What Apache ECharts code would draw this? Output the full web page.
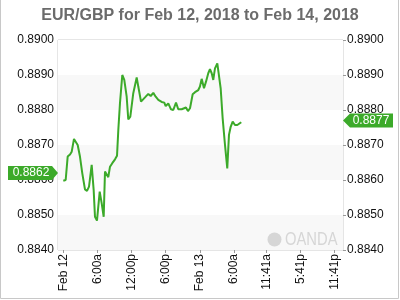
<!DOCTYPE html>
<html>
<head>
<meta charset="utf-8">
<script src="https://cdn.jsdelivr.net/npm/echarts@6/dist/echarts.min.js"></script>
<style>html,body{margin:0;padding:0;background:#fff}#c{width:400px;height:300px}</style>
</head>
<body>
<div id="c"></div>
<script>
// hours since Feb 12, 2018 00:00
const hours = [0.0,0.42,0.77,1.18,1.48,1.88,2.18,2.53,2.93,3.34,3.81,4.17,4.52,4.99,5.34,5.57,5.92,6.40,6.75,7.10,7.33,7.63,7.91,8.21,8.61,9.09,9.44,9.67,9.96,10.37,10.72,11.14,11.42,11.78,12.30,12.90,13.18,13.66,13.88,14.36,14.94,15.36,15.82,16.24,16.70,17.29,17.75,18.00,18.45,18.93,19.33,19.81,20.21,20.81,21.09,21.56,21.91,22.27,22.74,23.15,23.73,24.02,24.32,24.73,25.08,25.48,25.78,26.08,26.36,26.66,27.07,27.42,27.66,28.01,28.42,28.82,29.12,29.42,29.77,30.17,30.58,30.93,31.28];
const rates = [0.88598,0.88600,0.88667,0.88673,0.88681,0.88717,0.88717,0.88700,0.88667,0.88619,0.88573,0.88569,0.88581,0.88643,0.88571,0.88495,0.88484,0.88567,0.88533,0.88495,0.88624,0.88624,0.88608,0.88638,0.88648,0.88659,0.88669,0.88743,0.88819,0.88900,0.88886,0.88838,0.88773,0.88781,0.88848,0.88893,0.88867,0.88824,0.88819,0.88836,0.88846,0.88840,0.88849,0.88838,0.88829,0.88823,0.88821,0.88811,0.88819,0.88802,0.88800,0.88821,0.88802,0.88802,0.88805,0.88807,0.88797,0.88805,0.88845,0.88851,0.88857,0.88867,0.88889,0.88862,0.88881,0.88905,0.88917,0.88905,0.88886,0.88919,0.88933,0.88936,0.88862,0.88776,0.88700,0.88633,0.88729,0.88752,0.88767,0.88757,0.88757,0.88760,0.88765];
const xTickHours = [0,6,12,18,24,30,35.683,41.683,47.683];
const xTickLabels = ['Feb 12','6:00a','12:00p','6:00p','Feb 13','6:00a','11:41a','5:41p','11:41p'];
const xRange = [-0.93, 49.16];
const yRange = [0.884, 0.890];
const yStep = 0.001;
const openLabel = 0.8862;
const lastLabel = 0.8877;

const green = '#3caa2a';
const font = 'Liberation Sans, Arial, sans-serif';
const chart = echarts.init(document.getElementById('c'), null, {renderer:'canvas'});

function xLabel(v){
  let best = 0, d = 1e9;
  xTickHours.forEach((h,i)=>{ if (Math.abs(h-v) < d){ d = Math.abs(h-v); best = i; } });
  return xTickLabels[best];
}

chart.setOption({
  animation: false,
  title: {
    text: 'EUR/GBP for Feb 12, 2018 to Feb 14, 2018',
    left: 'center', top: 3,
    textStyle: {fontFamily: font, fontSize: 16, fontWeight: 'bold', color: '#6b6b6b'}
  },
  grid: {left: 58, right: 57, top: 40, bottom: 50, show: true, borderColor: '#cccccc', borderWidth: 1, backgroundColor: 'transparent'},
  xAxis: {
    type: 'value', min: xRange[0], max: xRange[1],
    axisLine: {show: false},
    splitLine: {show: false},
    axisTick: {show: true, length: 3, lineStyle: {color: '#999'}, customValues: xTickHours},
    axisLabel: {rotate: 90, margin: 4, fontFamily: font, fontSize: 12, color: '#111', customValues: xTickHours, formatter: xLabel}
  },
  yAxis: [{
    type: 'value', position: 'left', min: yRange[0], max: yRange[1], interval: yStep,
    axisLine: {show: false}, axisTick: {show: false},
    splitLine: {show: false},
    splitArea: {show: true, areaStyle: {color: ['#f8f8f8', '#ffffff']}},
    axisLabel: {margin: 4, fontFamily: font, fontSize: 12, color: '#111', formatter: v => v.toFixed(4)}
  }, {
    type: 'value', position: 'right', min: yRange[0], max: yRange[1], interval: yStep,
    axisLine: {show: false}, axisTick: {show: true, length: 3, lineStyle: {color: '#999'}},
    splitLine: {show: false},
    axisLabel: {margin: 4, fontFamily: font, fontSize: 12, color: '#111', formatter: v => v.toFixed(4)}
  }],
  graphic: {elements: [
    {type: 'rect', z: 50, shape: {x: 0.5, y: -2, width: 398, height: 300.5}, style: {fill: 'none', stroke: '#c8c8c8', lineWidth: 1}, silent: true},
    {type: 'circle', z: 50, shape: {cx: 274.5, cy: 239.5, r: 7}, style: {fill: '#d6d6d6'}, silent: true},
    {type: 'text', z: 50, x: 285, y: 231, scaleX: 0.82, style: {text: 'OANDA', fill: '#d6d6d6', font: '18px Liberation Sans, Arial, sans-serif'}, silent: true}
  ]},
  series: [{
    type: 'line',
    yAxisIndex: 0,
    clip: false,
    data: hours.map((h,i)=>[h, rates[i]]),
    showSymbol: false,
    lineStyle: {color: green, width: 2},
    itemStyle: {color: green},
    markPoint: {
      silent: true,
      data: [
        {coord: [xRange[0], openLabel], value: openLabel.toFixed(4),
         symbol: 'path://M0,0L44,0L50,7L44,14L0,14Z', symbolSize: [50,14], symbolKeepAspect: false, symbolOffset: [-25, 0],
         itemStyle: {color: green},
         label: {show: true, position: 'inside', offset: [-2, 0], color: '#fff', fontFamily: font, fontSize: 12, formatter: '{c}'}},
        {coord: [xRange[1], lastLabel], value: lastLabel.toFixed(4),
         symbol: 'path://M0,7L7,0L50,0L50,14L7,14Z', symbolSize: [50,14], symbolKeepAspect: false, symbolOffset: [25, 0],
         itemStyle: {color: green},
         label: {show: true, position: 'inside', offset: [3, 0], color: '#fff', fontFamily: font, fontSize: 12, formatter: '{c}'}}
      ]
    }
  }]
});
</script>
</body>
</html>
